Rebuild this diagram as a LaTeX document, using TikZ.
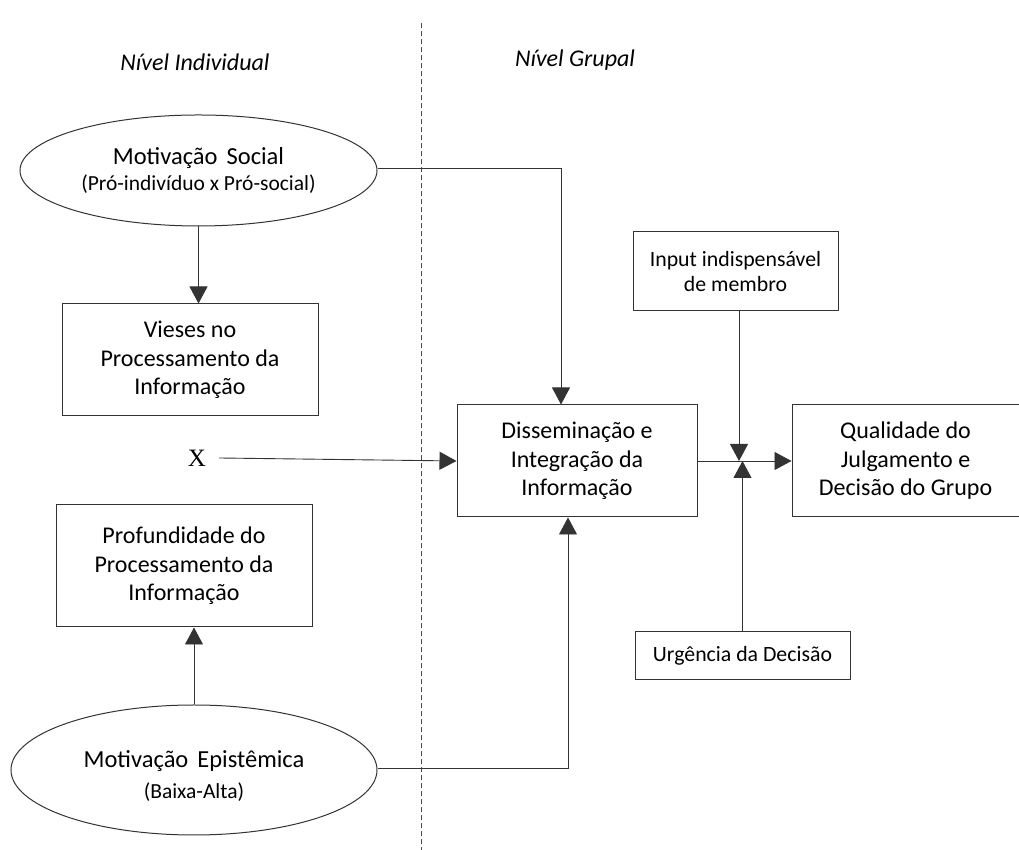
\documentclass[tikz,border=0pt]{standalone}
\usepackage{fontspec}
\setmainfont{Carlito}
\newfontfamily\serifx{Liberation Serif}
\usepackage{tikz}
\usetikzlibrary{shapes.geometric,arrows.meta,positioning}
\newcommand{\subtexto}[1]{{\fontsize{21.5}{25}\selectfont #1}}
\tikzstyle{motiv} = [ellipse, draw=black!80, line width=1pt, inner sep=0pt,
text=black, align=center, font=\fontsize{24.5}{30}\selectfont]
\tikzstyle{caixa} = [rectangle, draw=black!80, line width=1pt, inner sep=0pt,
text=black, align=center, font=\fontsize{24}{28.5}\selectfont]
\tikzstyle{caixap} = [caixa, font=\fontsize{21.8}{25}\selectfont]
\tikzstyle{nivel} = [font=\fontsize{24}{28}\selectfont\itshape]
\tikzstyle{tedge}  = [draw=black!80, line width=0.9pt, >={Triangle[length=17pt,width=18pt]}, ->]

\begin{document}
\begin{tikzpicture}[x=1pt,y=1pt]
\useasboundingbox (0,0) rectangle (1019,850);

% niveis =============================
\node[nivel] (ind) at (195,788) {Nível Individual};
\node[nivel] (grp) at (575,790) {Nível Grupal};
\coordinate (divtop) at (421,827);
\coordinate (divbot) at (421,0);
\draw[black!70, line width=0.8pt, dash pattern=on 5pt off 3pt] (divtop) -- (divbot);

% nivel individual =============================
\node[motiv, minimum width=357pt, minimum height=111pt] (social) at (198.5,679.5)
  {Motivação\hspace{9pt}Social\\[-4pt]\subtexto{(Pró-indivíduo x Pró-social)}};
\node[caixa, minimum width=256pt, minimum height=112pt, below=77pt of social, xshift=-8.5pt] (vieses)
  {Vieses no\\Processamento da\\Informação};

\node[motiv, minimum width=366pt, minimum height=130pt] (epist) at (194,80)
  {\rule{0pt}{28pt}Motivação\hspace{9pt}Epistêmica\\[1pt]\subtexto{(Baixa-Alta)}};
\node[caixa, minimum width=256pt, minimum height=122pt, above=77pt of epist, xshift=-10pt] (prof)
  {Profundidade do\\Processamento da\\Informação};

\node[font=\serifx\fontsize{25}{28}\selectfont, inner xsep=13pt] (x) at (197,392) {X};

% nivel grupal =============================
\node[caixa, minimum width=240pt, minimum height=112pt] (dissem) at (577,389)
  {Disseminação e\\Integração da\\Informação};
\node[caixa, minimum width=227pt, minimum height=112pt, right=94pt of dissem] (qual)
  {Qualidade do\\Julgamento e\\Decisão do Grupo};
\node[caixap, minimum width=205pt, minimum height=79pt] (input) at (735.5,578.5)
  {Input indispensável\\de membro};
\node[caixap, minimum width=215pt, minimum height=48pt] (urg) at (742.5,194)
  {Urgência da Decisão};

% edges
\coordinate (s1) at ([xshift=-16pt]dissem.north);
\coordinate (e1) at ([xshift=-9pt]dissem.south);
\draw[tedge] (social.south) -- (social.south |- vieses.north);
\draw[tedge] (epist.north) -- (epist.north |- prof.south);
\draw[tedge] ([yshift=2pt]social.east) -| (s1);
\draw[tedge] ([yshift=2pt]epist.east) -| (e1);
\draw[tedge] (x.east) -- (dissem.west);
\draw[tedge] (dissem.east) -- (qual.west);
\draw[tedge] ([xshift=3.5pt]input.south) -- ([xshift=3.5pt]input.south |- dissem.east);
\draw[tedge] (urg.north) -- (urg.north |- dissem.east);

\end{tikzpicture}
\end{document}
